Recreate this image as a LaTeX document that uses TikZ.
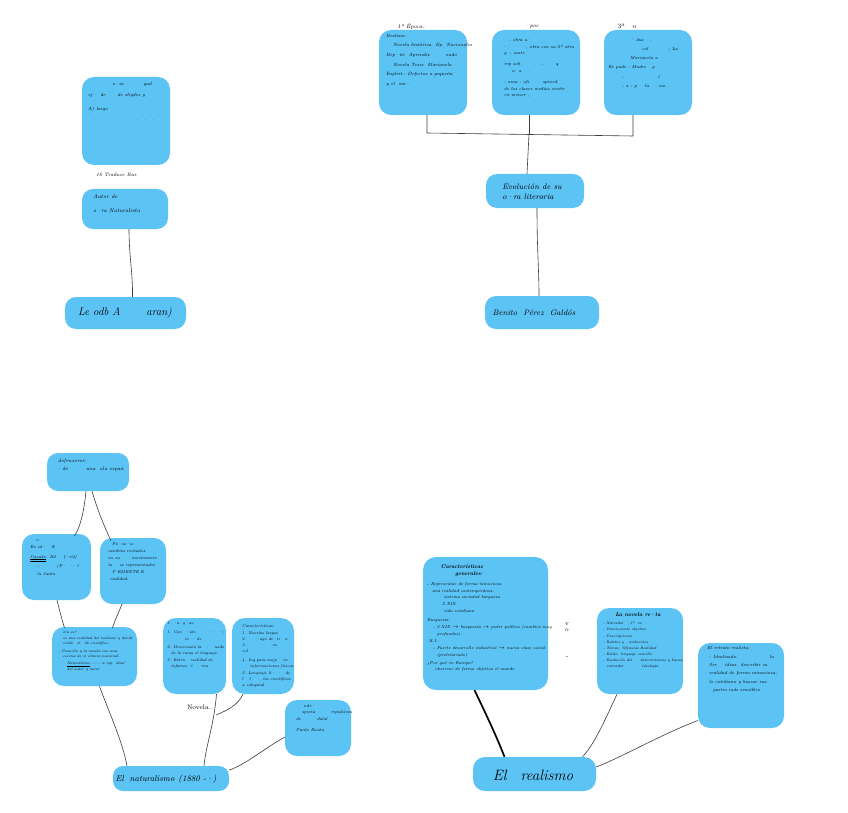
\documentclass[tikz,border=0pt]{standalone}
\usetikzlibrary{calc}
\definecolor{boxblue}{RGB}{92,195,245}
\definecolor{linkgray}{RGB}{60,60,60}
\begin{document}
\begin{tikzpicture}[x=1pt,y=-1pt,
  box/.style={fill=boxblue, draw=none, rounded corners=11pt, inner sep=0pt},
  tx/.style={font=\fontsize{4.6}{9.6}\selectfont\itshape, align=left, inner sep=0pt, anchor=north west, text=black},
  txs/.style={tx, font=\fontsize{4.1}{6.2}\selectfont\itshape},
  lbl/.style={font=\fontsize{9}{12}\selectfont\itshape, inner sep=0pt, text=black},
  link/.style={draw=linkgray, line width=0.6pt},
  boldlink/.style={draw=black, line width=1.7pt}]
\useasboundingbox (0,0) rectangle (848,813);
\fill[white] (0,0) rectangle (848,813);

% ---------- top left group ----------
\node[box, minimum width=88pt, minimum height=88pt, rounded corners=12pt] (tl) at (126,121) {};
\node[tx, font=\fontsize{4.6}{11.5}\selectfont\itshape] (tlT) at (88,82) {%
·\hspace{20pt}o·ia\hspace{20pt}gad·\\
ej\hspace{8pt}de\hspace{12pt}de\hspace{2pt}sligdes g\\[2pt]
A) largo\hspace{14pt}·\hspace{28pt}·\\
\hspace{4pt}·\hspace{38pt}·\hspace{4pt}·\hspace{4pt}·\\
·\hspace{16pt}·\\
\hspace{8pt}·};
\node[lbl, font=\fontsize{5}{6}\selectfont\itshape, anchor=west] (trad) at (96,175) {16 Traduce Rus};

\node[box, minimum width=86pt, minimum height=40pt] (autor) at (125,209) {};
\node[tx, font=\fontsize{5.4}{14}\selectfont\itshape] (autorT) at (93,194) {Autor de\\o·ra Naturalista};

\node[box, minimum width=121pt, minimum height=32pt] (reg) at (125.5,313) {};
\node[lbl, font=\fontsize{11}{12}\selectfont\itshape, anchor=west] (regT) at (78,313) {Le odb A\hspace{26pt}aran)};

\draw[link] ($(autor.south)+(4,0)$) .. controls (129,255) and (133,275) .. ($(reg.north)+(7,0)$);

% ---------- top right group ----------
\node[lbl, font=\fontsize{5.5}{6}\selectfont\itshape] (ep1) at (411,27) {1ª Época:};
\node[lbl, font=\fontsize{5.5}{6}\selectfont\itshape] (ep2) at (532,27) {·poc};
\node[lbl, font=\fontsize{6.5}{7}\selectfont] (ep3) at (627,26) {3ª\hspace{8pt}o};

\node[box, minimum width=88pt, minimum height=85pt, rounded corners=12pt] (A) at (423,72.5) {};
\node[box, minimum width=88pt, minimum height=85pt, rounded corners=12pt] (B) at (536,72.5) {};
\node[box, minimum width=88pt, minimum height=85pt, rounded corners=12pt] (C) at (648,72.5) {};

\node[tx] (AT) at (386,34) {%
Realism:\\
\hspace{7pt}Novela histórica. Ep. Nacionales\\
Rep·iti. Aprendiz\hspace{16pt}nado\\
\hspace{7pt}Novela Tesis. Marianela\\
Esplrit.- Defectos a pequeña\\
y el\hspace{4pt}sin·.};

\node[tx, font=\fontsize{4.4}{6.8}\selectfont\itshape] (BT) at (502,38) {%
\hspace{7pt}- obra a:\\
·\hspace{16pt}·, obra con su 2ª obra\\
\hspace{2pt}g\hspace{3pt}- ocate\\[4pt]
\hspace{2pt}rep sob:\hspace{20pt}-\hspace{12pt}q\\
\hspace{10pt}a\hspace{4pt}a\hspace{6pt}.\\[4pt]
\hspace{2pt}- ama - ofi\hspace{14pt}sprovd\\
\hspace{2pt}de los claves medias sentir\\
\hspace{2pt}en menor ,};

\node[tx, font=\fontsize{4.4}{9.2}\selectfont\itshape] (CT) at (608,38) {%
\hspace{22pt}· dus\hspace{6pt}.\\
\hspace{34pt}col\hspace{20pt}- La\\
\hspace{22pt}Marianela a\\
Re pade· Madre\hspace{6pt}g\\
\hspace{14pt}-\hspace{10pt}·\hspace{20pt}l\\
\hspace{14pt}- a - p\hspace{8pt}la\hspace{10pt}sio.};

\coordinate (barA) at (427,133);
\coordinate (barB) at (529,134);
\coordinate (barC) at (633,136);
\draw[link] ($(A.south)+(4,0)$) -- (barA) -- (barC) -- ($(C.south)+(-15,0)$);
\draw[link] ($(B.south)+(-7,0)$) -- (barB);

\node[box, minimum width=98pt, minimum height=34pt] (evo) at (535,191) {};
\node[lbl, font=\fontsize{8}{10}\selectfont\itshape, align=left] (evoT) at (532,192) {Evolución de su\\o·ra literaria};
\draw[link] (barB) -- ($(evo.north)+(-8,0)$);

\node[box, minimum width=114pt, minimum height=33pt] (ben) at (542,312.5) {};
\node[lbl, font=\fontsize{8}{10}\selectfont\itshape] (benT) at (534,313) {Benito\hspace{6pt}Pérez\hspace{6pt}Galdós};
\draw[link] ($(evo.south)+(2,0)$) .. controls (537,250) and (539,270) .. ($(ben.north)+(-3,0)$);

% ---------- bottom left group ----------
\node[box, minimum width=82pt, minimum height=38pt] (def) at (88,472) {};
\node[tx, font=\fontsize{5}{8}\selectfont\itshape] (defT) at (58,459) {defensores:\\- de\hspace{18pt}una\hspace{4pt}ola españ};

\node[box, minimum width=69pt, minimum height=66pt, rounded corners=12pt] (b8) at (56.5,567) {};
\node[txs, font=\fontsize{4.2}{7.5}\selectfont\itshape] (b8T) at (30,539) {%
\hspace{6pt}o\hspace{6pt}·\hspace{4pt}·\\
Es ed·\hspace{6pt}E\hspace{4pt}·\\[2pt]
\underline{\underline{Casado}}: Ed\hspace{8pt}f·rió]\\[2pt]
\hspace{7pt}-\hspace{18pt}(F·\hspace{3pt}·: ?\\
\hspace{7pt}la Junta};

\node[box, minimum width=66pt, minimum height=66pt, rounded corners=12pt] (b9) at (133,571) {};
\node[txs, font=\fontsize{4.2}{6.8}\selectfont\itshape] (b9T) at (108,542) {%
\hspace{4pt}Po·so·a:\\[1pt]
cambios rechados\\
en su\hspace{12pt}movimiento\\
la\hspace{4pt}·se representados\\
\hspace{4pt}P EMENTE E\\
\hspace{2pt}realidad.};

\node[box, minimum width=85pt, minimum height=59pt, rounded corners=12pt] (b10) at (94.5,656.5) {};
\node[txs, font=\fontsize{3.7}{5.4}\selectfont\itshape] (b10T) at (58,631) {%
\hspace{5pt}era es?\\
\hspace{5pt}es una realidad del realismo y donde\\
\hspace{5pt}estilo\hspace{4pt}el\hspace{4pt}26 científico.\\[2pt]
- Creación y la novela con una\\
\hspace{5pt}escena de el cómico nacional.\\[2pt]
\hspace{9pt}\underline{Naturalismo} —— a esp. ideal\\
\hspace{9pt}del autor y autor};

\node[box, minimum width=63pt, minimum height=76pt, rounded corners=13pt] (b11) at (194.5,656) {};
\node[txs, font=\fontsize{4}{6.6}\selectfont\itshape] (b11T) at (167,622) {%
1. ·a·g·as:\\[2pt]
1. Con\hspace{4pt}·ión\hspace{12pt}·\hspace{2pt}·\hspace{2pt}·;\\
\hspace{18pt}lo\hspace{8pt}de\\[1.5pt]
2. Descensión la\hspace{4pt}· ·nado\\
\hspace{4pt}de la rama el lenguaje\\
3. Exten· realidad de\\
\hspace{4pt}infames\hspace{4pt}l\hspace{6pt}·ma};

\node[box, minimum width=62pt, minimum height=76pt, rounded corners=13pt] (b12) at (263,656) {};
\node[txs, font=\fontsize{4}{6.2}\selectfont\itshape] (b12T) at (240,624) {%
\hspace{2pt}Características:\\[1pt]
\hspace{2pt}1. Novelas largas\\
\hspace{2pt}2.\hspace{10pt}·ayo de·ti ·a\\
\hspace{2pt}3.\hspace{16pt}·\hspace{3pt}·en\\
\hspace{2pt}col·\\[2pt]
\hspace{2pt}4. Ing para mejo\hspace{6pt}en\\
\hspace{10pt}informaciones físicos\\[1pt]
\hspace{2pt}5. Lenguaje\hspace{2pt}li·\hspace{3pt}·\hspace{4pt}de\\
\hspace{2pt}l\hspace{6pt}l·\hspace{2pt}·, los científicos\\
\hspace{2pt}a\hspace{2pt}coloquial};

\node[box, minimum width=66pt, minimum height=56pt, rounded corners=12pt] (b14) at (318,728) {};
\node[txs, font=\fontsize{4.2}{6.6}\selectfont\itshape] (b14T) at (292,704) {%
·\hspace{8pt}nde·\hspace{6pt}.\\
\hspace{10pt}specta\hspace{16pt}repulsivos\\
\hspace{4pt}de\hspace{16pt}dulal\\[5pt]
\hspace{4pt}Pardo Bazán};

\node[lbl, font=\fontsize{6.5}{8}\selectfont] (novT) at (200,707) {Novela..};
\coordinate (nov) at (216,715);

\node[box, minimum width=116pt, minimum height=25pt, rounded corners=10pt] (nat) at (171,778.5) {};
\node[lbl, font=\fontsize{8.5}{10}\selectfont\itshape] (natT) at (166,779) {El\hspace{6pt}naturalismo\hspace{4pt}(1880 -·)};

\draw[link] ($(def.south)+(-2,0)$) .. controls (84,512) and (80,528) .. ($(b8.north)+(18,2)$);
\draw[link] ($(def.south)+(4,0)$) .. controls (98,512) and (106,530) .. ($(b9.north)+(-22,3)$);
\draw[link] ($(b8.south)+(0.5,0)$) .. controls (60,612) and (62,620) .. ($(b10.north)+(-30,1)$);
\draw[link] ($(b9.south)+(-11,0)$) .. controls (118,614) and (115,620) .. ($(b10.north)+(18,1)$);
\draw[link] ($(b10.south)+(5,0)$) .. controls (110,715) and (122,740) .. ($(nat.north)+(-44,0)$);
\draw[link] ($(b11.south)+(22,0)$) .. controls (214,725) and (206,745) .. ($(nat.north)+(33,0)$);
\draw[link] ($(b12.south)+(-20,0)$) .. controls (238,705) and (228,710) .. (nov);
\draw[link] ($(b14.west)+(0,9)$) .. controls (265,748) and (245,765) .. ($(nat.east)+(0,-8.5)$);

% ---------- bottom right group ----------
\node[box, minimum width=125pt, minimum height=133pt, rounded corners=13pt] (b16) at (485.5,623.5) {};
\node[lbl, font=\bfseries\itshape\fontsize{5.6}{7}\selectfont, align=center] (b16H) at (462,571) {Características\\\hspace{14pt}generales:};
\node[txs, font=\fontsize{4.2}{6.9}\selectfont\itshape] (b16T) at (427,582) {%
- Representar de forma minuciosa\\
\hspace{5pt}una realidad contemporánea:\\
\hspace{11pt}· sistema sociedad burguesa\\
\hspace{15pt}S.XIX\\
\hspace{11pt}· vida cotidiana\\[2pt]
Burguesía:\\
\hspace{6pt}- S.XIX $\rightarrow$ burguesía $\rightarrow$ poder político (cambios muy\\
\hspace{10pt}profundos).\\
\hspace{2pt}R.I.:\\
\hspace{6pt}- Fuerte desarrollo industrial $\rightarrow$ nueva clase social\\
\hspace{10pt}(proletariado)\\[1pt]
¿Por qué en Europa?\\
\hspace{8pt}observar de forma objetiva el mundo};

\node[lbl, font=\fontsize{6}{7}\selectfont] (vo) at (567,627) {\shortstack{v\\o}};
\node[lbl, font=\fontsize{6}{7}\selectfont] (dash) at (567,658) {-};

\node[box, minimum width=86pt, minimum height=86pt, rounded corners=12pt] (b17) at (640,651) {};
\node[lbl, font=\bfseries\itshape\fontsize{5.6}{7}\selectfont] (b17H) at (638,615) {La novela re·ta};
\node[txs, font=\fontsize{3.7}{6.1}\selectfont\itshape] (b17T) at (603,622) {%
- Narrador\hspace{3pt}·3ª·ra\\
- Omnisciente objetivo\hspace{18pt}·\\
- Descripciones\\
- Relatos y\hspace{2pt}·ambientes\\
- Temas:\hspace{2pt}Ofensiva Realidad\\
- Estilo:\hspace{2pt}lenguaje sencillo\\
- Evolución del\hspace{5pt}·determinismo y buena\\
\hspace{4pt}narrador\hspace{18pt}ideología};

\node[box, minimum width=86pt, minimum height=85pt, rounded corners=12pt] (b18) at (741,685.5) {};
\node[txs, font=\fontsize{4.5}{8.2}\selectfont\itshape] (b18T) at (707,646) {%
El retrato realista:\\[1pt]
\hspace{2pt}- Idealizado:\hspace{32pt}la\\
\hspace{2pt}Ser\hspace{8pt}ideas: describir su\\
\hspace{2pt}realidad de forma minuciosa,\\
\hspace{2pt}lo cotidiano y buscar sus\\
\hspace{6pt}partes más sensibles};

\node[box, minimum width=123pt, minimum height=34pt, rounded corners=12pt] (real) at (534.5,774) {};
\node[lbl, font=\fontsize{15}{16}\selectfont\itshape] (realT) at (533,775) {El\hspace{14pt}realismo};

\draw[boldlink] ($(b16.south)+(-11,0)$) .. controls (485,712) and (496,735) .. ($(real.north)+(-30,0)$);
\draw[link] ($(b17.south)+(-23,0)$) .. controls (605,720) and (594,745) .. ($(real.north)+(48,0)$);
\draw[link] ($(b18.west)+(0,35)$) .. controls (660,735) and (620,758) .. ($(real.east)+(0,-7)$);
\end{tikzpicture}
\end{document}
